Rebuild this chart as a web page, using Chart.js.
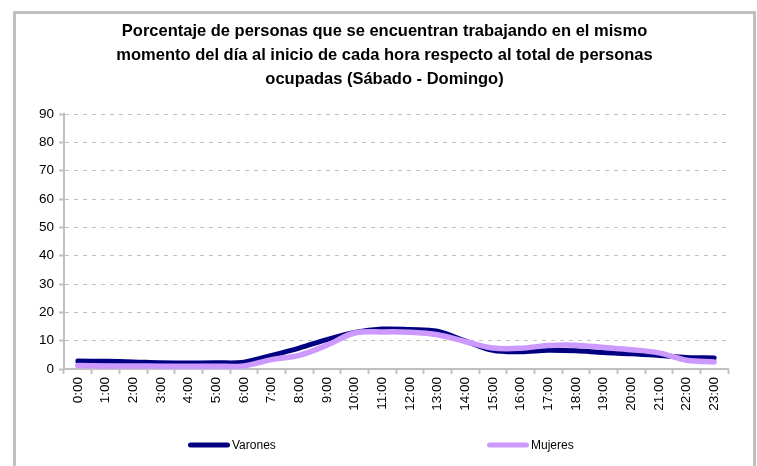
<!DOCTYPE html>
<html>
<head>
<meta charset="utf-8">
<script src="https://cdn.jsdelivr.net/npm/chart.js@4.4.1/dist/chart.umd.min.js"></script>
<style>
  html, body { margin: 0; padding: 0; background: #fff; width: 757px; height: 466px; overflow: hidden; }
  #marco { position: absolute; left: 13px; top: 11px; width: 737px; height: 452px; border: 3px solid #c0c0c0; background: #fff; }
  canvas { display: block; }
</style>
</head>
<body>
<div id="marco"><canvas id="grafico" width="737" height="452"></canvas></div>
<script>
// Horas del día (inicio de cada hora)
const horas = ['0:00','1:00','2:00','3:00','4:00','5:00','6:00','7:00','8:00','9:00','10:00','11:00',
               '12:00','13:00','14:00','15:00','16:00','17:00','18:00','19:00','20:00','21:00','22:00','23:00'];

// Porcentaje de ocupados trabajando en cada hora (sábado - domingo)
const varones = [2.8, 2.7, 2.5, 2.2, 2.1, 2.2, 2.4, 4.8, 7.4, 10.4, 12.9, 14.1,
                 13.9, 13.3, 9.9, 6.6, 6.1, 6.6, 6.4, 5.8, 5.4, 4.8, 4.1, 3.9];
const mujeres = [1.2, 1.1, 1.1, 1.0, 1.0, 1.0, 1.1, 3.3, 4.8, 8.4, 12.7, 13.1,
                 13.0, 12.1, 9.7, 7.4, 7.3, 8.3, 8.4, 7.6, 6.8, 5.7, 3.1, 2.5];

const titulo = [
  'Porcentaje de personas que se encuentran trabajando en el mismo',
  'momento del día al inicio de cada hora respecto al total de personas',
  'ocupadas (Sábado - Domingo)'
];

const ejeY = { min: 0, max: 90, paso: 10 };

const FUENTE = '"Liberation Sans", Arial, Helvetica, sans-serif';
Chart.defaults.font.family = FUENTE;
Chart.defaults.color = '#000';

// El título se centra sobre todo el ancho del lienzo
const tituloCentrado = {
  id: 'tituloCentrado',
  afterLayout(chart) {
    if (chart.titleBlock) {
      chart.titleBlock.left = 0;
      chart.titleBlock.right = chart.width;
    }
  }
};

// Leyenda al pie, con las dos series bien separadas
const leyenda = {
  id: 'leyenda',
  afterDraw(chart) {
    const ctx = chart.ctx;
    const cx = chart.width / 2;
    const y = 431;
    const inicios = [cx - 196.5, cx + 102.5];
    chart.data.datasets.forEach((ds, i) => {
      const x = inicios[i];
      ctx.save();
      ctx.strokeStyle = ds.borderColor;
      ctx.lineWidth = 5;
      ctx.lineCap = 'round';
      ctx.beginPath();
      ctx.moveTo(x + 2.5, y);
      ctx.lineTo(x + 39.5, y);
      ctx.stroke();
      ctx.fillStyle = '#000';
      ctx.font = '12px ' + FUENTE;
      ctx.textBaseline = 'middle';
      ctx.textAlign = 'left';
      ctx.fillText(ds.label, x + 44, y + 1);
      ctx.restore();
    });
  }
};

new Chart(document.getElementById('grafico'), {
  type: 'line',
  data: {
    labels: horas,
    datasets: [
      {
        label: 'Varones',
        data: varones,
        borderColor: '#000080',
        backgroundColor: '#000080',
        borderWidth: 5,
        borderCapStyle: 'round',
        borderJoinStyle: 'round',
        tension: 0.35,
        pointRadius: 0,
        order: 1
      },
      {
        label: 'Mujeres',
        data: mujeres,
        borderColor: '#cc99ff',
        backgroundColor: '#cc99ff',
        borderWidth: 5.5,
        borderCapStyle: 'round',
        borderJoinStyle: 'round',
        tension: 0.35,
        pointRadius: 0,
        order: 0
      }
    ]
  },
  options: {
    responsive: false,
    animation: false,
    layout: { padding: { left: 0, right: 25, top: 0, bottom: 37 } },
    plugins: {
      legend: { display: false },
      tooltip: { enabled: false },
      title: {
        display: true,
        text: titulo,
        color: '#000',
        font: { size: 16.5, weight: 'bold', lineHeight: 24 / 16.5 },
        padding: { top: 5, bottom: 23 }
      }
    },
    scales: {
      x: {
        type: 'category',
        offset: true,
        grid: {
          display: true,
          offset: true,
          drawOnChartArea: false,
          drawTicks: true,
          tickLength: 5,
          tickColor: '#c0c0c0',
          tickWidth: 2
        },
        border: { display: true, color: '#c0c0c0', width: 2 },
        ticks: {
          autoSkip: false,
          minRotation: 90,
          maxRotation: 90,
          padding: 3,
          color: '#000',
          font: { size: 13.5 }
        },
        afterFit(scale) { scale.height = 60; }
      },
      y: {
        min: ejeY.min,
        max: ejeY.max,
        ticks: { stepSize: ejeY.paso, padding: 5, color: '#000', font: { size: 13.5 } },
        grid: {
          color: '#c0c0c0',
          lineWidth: 1,
          drawTicks: true,
          tickLength: 5,
          tickColor: '#c0c0c0',
          tickWidth: 2,
          tickBorderDash: []
        },
        border: { display: true, color: '#c0c0c0', width: 2, dash: [4, 5] },
        afterFit(scale) { scale.width = 48; }
      }
    }
  },
  plugins: [tituloCentrado, leyenda]
});
</script>
</body>
</html>
